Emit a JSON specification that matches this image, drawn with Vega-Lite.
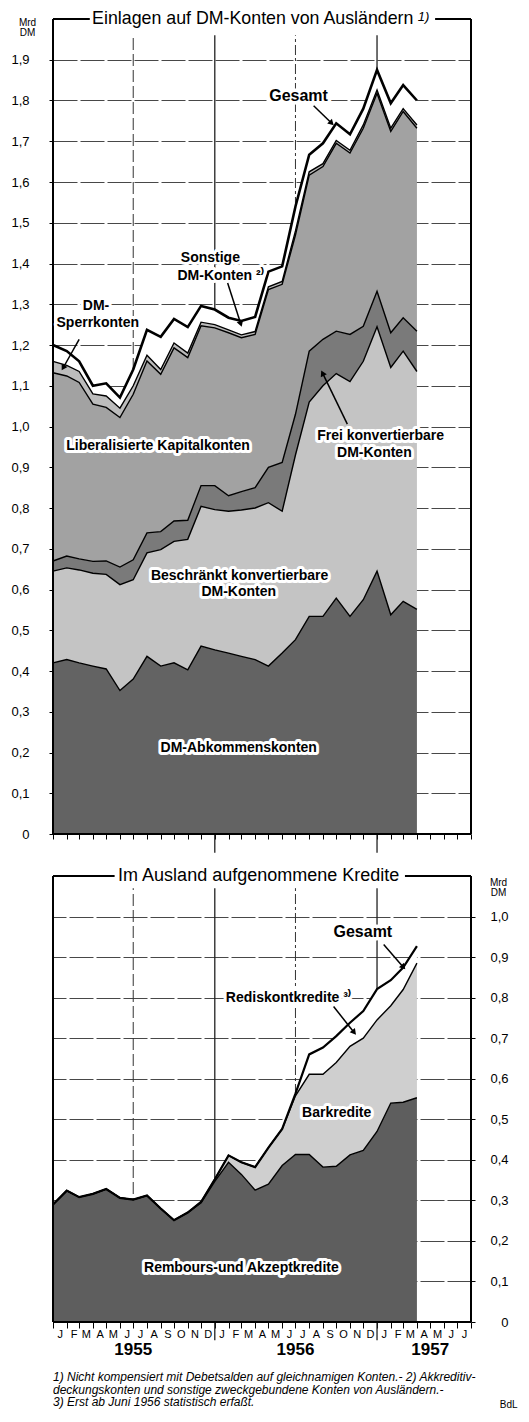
{
"$schema": "https://vega.github.io/schema/vega-lite/v6.json",
"background": "white",
"padding": {"left": 10, "top": 10, "right": 5, "bottom": 10},
"spacing": 13,
"resolve": {"scale": {"color": "independent"}},
"config": {"view": {"stroke": null}, "font": "Liberation Sans", "axis": {"labelColor": "black", "tickColor": "black", "domain": false}},
"datasets": {
"one": [{}],
"top": [
{"d":"1955-01-01","s1":0.420,"s2":0.225,"s3":0.025,"s4":0.462,"s5":0.028,"s6":0.040},
{"d":"1955-02-01","s1":0.428,"s2":0.225,"s3":0.029,"s4":0.442,"s5":0.026,"s6":0.035},
{"d":"1955-03-01","s1":0.420,"s2":0.228,"s3":0.027,"s4":0.433,"s5":0.027,"s6":0.025},
{"d":"1955-04-01","s1":0.412,"s2":0.228,"s3":0.029,"s4":0.386,"s5":0.025,"s6":0.020},
{"d":"1955-05-01","s1":0.405,"s2":0.232,"s3":0.033,"s4":0.377,"s5":0.028,"s6":0.031},
{"d":"1955-06-01","s1":0.352,"s2":0.260,"s3":0.043,"s4":0.367,"s5":0.023,"s6":0.026},
{"d":"1955-07-01","s1":0.380,"s2":0.244,"s3":0.049,"s4":0.406,"s5":0.021,"s6":0.040},
{"d":"1955-08-01","s1":0.436,"s2":0.254,"s3":0.049,"s4":0.422,"s5":0.014,"s6":0.062},
{"d":"1955-09-01","s1":0.412,"s2":0.286,"s3":0.044,"s4":0.386,"s5":0.012,"s6":0.080},
{"d":"1955-10-01","s1":0.420,"s2":0.298,"s3":0.050,"s4":0.425,"s5":0.012,"s6":0.059},
{"d":"1955-11-01","s1":0.403,"s2":0.320,"s3":0.047,"s4":0.399,"s5":0.011,"s6":0.064},
{"d":"1955-12-01","s1":0.461,"s2":0.343,"s3":0.051,"s4":0.392,"s5":0.009,"s6":0.040},
{"d":"1956-01-01","s1":0.452,"s2":0.344,"s3":0.059,"s4":0.387,"s5":0.008,"s6":0.037},
{"d":"1956-02-01","s1":0.444,"s2":0.348,"s3":0.038,"s4":0.400,"s5":0.007,"s6":0.030},
{"d":"1956-03-01","s1":0.436,"s2":0.359,"s3":0.045,"s4":0.378,"s5":0.007,"s6":0.034},
{"d":"1956-04-01","s1":0.428,"s2":0.372,"s3":0.050,"s4":0.376,"s5":0.007,"s6":0.036},
{"d":"1956-05-01","s1":0.412,"s2":0.401,"s3":0.087,"s4":0.436,"s5":0.007,"s6":0.037},
{"d":"1956-06-01","s1":0.444,"s2":0.348,"s3":0.120,"s4":0.437,"s5":0.007,"s6":0.037},
{"d":"1956-07-01","s1":0.477,"s2":0.453,"s3":0.100,"s4":0.440,"s5":0.010,"s6":0.060},
{"d":"1956-08-01","s1":0.534,"s2":0.526,"s3":0.125,"s4":0.432,"s5":0.008,"s6":0.042},
{"d":"1956-09-01","s1":0.534,"s2":0.566,"s3":0.114,"s4":0.424,"s5":0.007,"s6":0.050},
{"d":"1956-10-01","s1":0.579,"s2":0.551,"s3":0.104,"s4":0.461,"s5":0.007,"s6":0.042},
{"d":"1956-11-01","s1":0.534,"s2":0.576,"s3":0.116,"s4":0.445,"s5":0.007,"s6":0.039},
{"d":"1956-12-01","s1":0.575,"s2":0.585,"s3":0.086,"s4":0.486,"s5":0.008,"s6":0.040},
{"d":"1957-01-01","s1":0.645,"s2":0.600,"s3":0.087,"s4":0.486,"s5":0.008,"s6":0.049},
{"d":"1957-02-01","s1":0.538,"s2":0.607,"s3":0.085,"s4":0.494,"s5":0.008,"s6":0.061},
{"d":"1957-03-01","s1":0.571,"s2":0.614,"s3":0.082,"s4":0.506,"s5":0.007,"s6":0.058},
{"d":"1957-04-01","s1":0.551,"s2":0.584,"s3":0.099,"s4":0.498,"s5":0.008,"s6":0.060}
],
"bot": [
{"d":"1955-01-01","r1":0.290,"r2":0.000,"r3":0.000},
{"d":"1955-02-01","r1":0.324,"r2":0.000,"r3":0.000},
{"d":"1955-03-01","r1":0.308,"r2":0.000,"r3":0.000},
{"d":"1955-04-01","r1":0.316,"r2":0.000,"r3":0.000},
{"d":"1955-05-01","r1":0.328,"r2":0.000,"r3":0.000},
{"d":"1955-06-01","r1":0.306,"r2":0.000,"r3":0.000},
{"d":"1955-07-01","r1":0.302,"r2":0.000,"r3":0.000},
{"d":"1955-08-01","r1":0.312,"r2":0.000,"r3":0.000},
{"d":"1955-09-01","r1":0.280,"r2":0.000,"r3":0.000},
{"d":"1955-10-01","r1":0.251,"r2":0.000,"r3":0.000},
{"d":"1955-11-01","r1":0.270,"r2":0.000,"r3":0.000},
{"d":"1955-12-01","r1":0.294,"r2":0.002,"r3":0.000},
{"d":"1956-01-01","r1":0.347,"r2":0.005,"r3":0.000},
{"d":"1956-02-01","r1":0.394,"r2":0.017,"r3":0.000},
{"d":"1956-03-01","r1":0.364,"r2":0.030,"r3":0.000},
{"d":"1956-04-01","r1":0.325,"r2":0.057,"r3":0.000},
{"d":"1956-05-01","r1":0.340,"r2":0.090,"r3":0.000},
{"d":"1956-06-01","r1":0.386,"r2":0.090,"r3":0.000},
{"d":"1956-07-01","r1":0.413,"r2":0.145,"r3":0.005},
{"d":"1956-08-01","r1":0.413,"r2":0.198,"r3":0.049},
{"d":"1956-09-01","r1":0.382,"r2":0.229,"r3":0.066},
{"d":"1956-10-01","r1":0.384,"r2":0.256,"r3":0.065},
{"d":"1956-11-01","r1":0.412,"r2":0.268,"r3":0.058},
{"d":"1956-12-01","r1":0.423,"r2":0.277,"r3":0.067},
{"d":"1957-01-01","r1":0.470,"r2":0.275,"r3":0.076},
{"d":"1957-02-01","r1":0.540,"r2":0.240,"r3":0.063},
{"d":"1957-03-01","r1":0.542,"r2":0.278,"r3":0.054},
{"d":"1957-04-01","r1":0.553,"r2":0.332,"r3":0.042}
],
"topLab": [
{"d":"1955-12-22","v":1.413,"t":"Sonstige"},
{"d":"1956-01-14","v":1.369,"t":"DM-Konten ²⁾"},
{"d":"1955-04-08","v":1.295,"t":"DM-"},
{"d":"1955-04-12","v":1.254,"t":"Sperrkonten"},
{"d":"1955-08-26","v":0.952,"t":"Liberalisierte Kapitalkonten"},
{"d":"1957-01-09","v":0.977,"t":"Frei konvertierbare"},
{"d":"1956-12-26","v":0.935,"t":"DM-Konten"},
{"d":"1956-02-26","v":0.632,"t":"Beschränkt konvertierbare"},
{"d":"1956-02-24","v":0.593,"t":"DM-Konten"},
{"d":"1956-02-24","v":0.211,"t":"DM-Abkommenskonten"}
],
"botLab": [
{"d":"1956-06-15","v":0.800,"t":"Rediskontkredite ³⁾"},
{"d":"1956-10-02","v":0.516,"t":"Barkredite"},
{"d":"1956-03-01","v":0.133,"t":"Rembours-und Akzeptkredite"}
]
},
"vconcat": [
{
"width": 418, "height": 815,
"layer": [
{"data": {"name": "one"}, "mark": {"type": "rule", "stroke": "#333", "strokeWidth": 1, "strokeDash": [12, 4]}, "encoding": {"x": {"datum": {"year": 1955, "month": 7, "date": 1}}, "y": {"datum": 0}, "y2": {"datum": 1.96}}},
{"data": {"name": "one"}, "mark": {"type": "rule", "stroke": "#222", "strokeWidth": 1.3}, "encoding": {"x": {"datum": {"year": 1956, "month": 1, "date": 1}}, "y": {"datum": -0.046}, "y2": {"datum": 1.96}}},
{"data": {"name": "one"}, "mark": {"type": "rule", "stroke": "#333", "strokeWidth": 1, "strokeDash": [10, 3, 3, 3]}, "encoding": {"x": {"datum": {"year": 1956, "month": 7, "date": 1}}, "y": {"datum": 0}, "y2": {"datum": 1.96}}},
{"data": {"name": "one"}, "mark": {"type": "rule", "stroke": "#222", "strokeWidth": 1.3}, "encoding": {"x": {"datum": {"year": 1957, "month": 1, "date": 1}}, "y": {"datum": -0.046}, "y2": {"datum": 1.96}}},
{
"data": {"name": "top"},
"transform": [{"fold": ["s1", "s2", "s3", "s4", "s5", "s6"], "as": ["k", "v"]}],
"mark": {"type": "area"},
"encoding": {
"x": {"field": "d", "type": "temporal", "title": null,
"scale": {"domain": ["1955-01-01", "1957-08-01"], "nice": false},
"axis": {"tickCount": {"interval": "month", "step": 1}, "labels": false, "ticks": true, "tickSize": 5, "tickWidth": 1, "grid": false, "domain": false, "title": null}},
"y": {"field": "v", "type": "quantitative", "stack": "zero",
"scale": {"domain": [0, 2], "nice": false},
"axis": {"values": [0, 0.1, 0.2, 0.3, 0.4, 0.5, 0.6, 0.7, 0.8, 0.9, 1.0, 1.1, 1.2, 1.3, 1.4, 1.5, 1.6, 1.7, 1.8, 1.9],
"labelExpr": "datum.value == 0 ? '0' : replace(format(datum.value, '.1f'), '.', ',')",
"labelFontSize": 13,
"tickSize": 4, "labelPadding": 20, "grid": true, "gridColor": "#333", "gridWidth": 0.9, "gridDash": [24, 3],
"title": ["Mrd", "DM"], "titleAngle": 0, "titleAlign": "center", "titleBaseline": "top", "titleX": -26, "titleY": -2,
"titleFontSize": 10, "titleFontWeight": "normal", "titleLineHeight": 10}},
"color": {"field": "k", "type": "nominal", "legend": null,
"scale": {"domain": ["s1", "s2", "s3", "s4", "s5", "s6"], "range": ["#636363", "#c4c4c4", "#7a7a7a", "#a2a2a2", "#bcbcbc", "#ffffff"]}},
"order": {"field": "k", "sort": "ascending"}
}
},
{
"data": {"name": "top"},
"transform": [{"fold": ["s1", "s2", "s3", "s4", "s5"], "as": ["k", "v"]}],
"mark": {"type": "line", "stroke": "black", "strokeWidth": 1.4},
"encoding": {"x": {"field": "d", "type": "temporal"}, "y": {"field": "v", "type": "quantitative", "stack": "zero"}, "detail": {"field": "k"}, "order": {"field": "k", "sort": "ascending"}}
},
{
"data": {"name": "top"},
"transform": [{"fold": ["s1", "s2", "s3", "s4", "s5", "s6"], "as": ["k", "v"]}],
"mark": {"type": "line", "stroke": "black", "strokeWidth": 2.6},
"encoding": {"x": {"field": "d", "type": "temporal"}, "y": {"aggregate": "sum", "field": "v", "type": "quantitative"}}
},
{"data": {"name": "one"}, "mark": {"type": "rule", "stroke": "black", "strokeWidth": 2}, "encoding": {"x": {"datum": {"year": 1955, "month": 1, "date": 1}}, "y": {"datum": 0}, "y2": {"datum": 2}}},
{"data": {"name": "one"}, "mark": {"type": "rule", "stroke": "black", "strokeWidth": 2}, "encoding": {"x": {"datum": {"year": 1957, "month": 8, "date": 1}}, "y": {"datum": 0}, "y2": {"datum": 2}}},
{"data": {"name": "one"}, "mark": {"type": "rule", "stroke": "black", "strokeWidth": 2}, "encoding": {"x": {"datum": {"year": 1955, "month": 1, "date": 1}}, "x2": {"datum": {"year": 1957, "month": 8, "date": 1}}, "y": {"datum": 0}}},
{"data": {"name": "one"}, "mark": {"type": "rule", "stroke": "black", "strokeWidth": 2}, "encoding": {"x": {"datum": {"year": 1955, "month": 1, "date": 1}}, "x2": {"datum": {"year": 1955, "month": 3, "date": 25}}, "y": {"datum": 2}}},
{"data": {"name": "one"}, "mark": {"type": "rule", "stroke": "black", "strokeWidth": 2}, "encoding": {"x": {"datum": {"year": 1957, "month": 5, "date": 12}}, "x2": {"datum": {"year": 1957, "month": 8, "date": 1}}, "y": {"datum": 2}}},
{"data": {"name": "one"}, "mark": {"type": "text", "text": "Einlagen auf DM-Konten von Ausländern", "fontSize": 17.8, "align": "right", "baseline": "middle", "fill": "black"},
"encoding": {"x": {"datum": {"year": 1957, "month": 3, "date": 24}}, "y": {"datum": 2}}},
{"data": {"name": "one"}, "mark": {"type": "text", "text": "1)", "fontSize": 13, "fontStyle": "italic", "align": "left", "baseline": "middle", "dy": -2, "fill": "black"},
"encoding": {"x": {"datum": {"year": 1957, "month": 4, "date": 3}}, "y": {"datum": 2}}},
{"data": {"name": "topLab"},
"mark": {"type": "text", "fontSize": 14, "fontWeight": "bold", "align": "center", "baseline": "middle", "fill": "white", "stroke": "white", "strokeWidth": 6, "strokeJoin": "round"},
"encoding": {"x": {"field": "d", "type": "temporal"}, "y": {"field": "v", "type": "quantitative"}, "text": {"field": "t"}}},
{"data": {"name": "topLab"},
"mark": {"type": "text", "fontSize": 14, "fontWeight": "bold", "align": "center", "baseline": "middle", "fill": "black"},
"encoding": {"x": {"field": "d", "type": "temporal"}, "y": {"field": "v", "type": "quantitative"}, "text": {"field": "t"}}},
{"data": {"name": "one"}, "mark": {"type": "text", "text": "Gesamt", "fontSize": 16, "fontWeight": "bold", "align": "center", "baseline": "middle", "fill": "white", "stroke": "white", "strokeWidth": 7, "strokeJoin": "round"},
"encoding": {"x": {"datum": {"year": 1956, "month": 7, "date": 8}}, "y": {"datum": 1.81}}},
{"data": {"name": "one"}, "mark": {"type": "text", "text": "Gesamt", "fontSize": 16, "fontWeight": "bold", "align": "center", "baseline": "middle", "fill": "black"},
"encoding": {"x": {"datum": {"year": 1956, "month": 7, "date": 8}}, "y": {"datum": 1.81}}},
{"data": {"name": "one"}, "mark": {"type": "rule", "stroke": "black", "strokeWidth": 1.5}, "encoding": {"x": {"datum": {"year": 1956, "month": 8, "date": 11}}, "y": {"datum": 1.787}, "x2": {"datum": {"year": 1956, "month": 9, "date": 19}}, "y2": {"datum": 1.746}}},
{"data": {"name": "one"}, "mark": {"type": "point", "shape": "triangle", "filled": true, "color": "black", "opacity": 1, "size": 45, "angle": 135}, "encoding": {"x": {"datum": {"year": 1956, "month": 9, "date": 19}}, "y": {"datum": 1.746}}},
{"data": {"name": "one"}, "mark": {"type": "rule", "stroke": "black", "strokeWidth": 1.5}, "encoding": {"x": {"datum": {"year": 1956, "month": 1, "date": 30}}, "y": {"datum": 1.352}, "x2": {"datum": {"year": 1956, "month": 2, "date": 28}}, "y2": {"datum": 1.254}}},
{"data": {"name": "one"}, "mark": {"type": "point", "shape": "triangle", "filled": true, "color": "black", "opacity": 1, "size": 45, "angle": 162}, "encoding": {"x": {"datum": {"year": 1956, "month": 2, "date": 28}}, "y": {"datum": 1.254}}},
{"data": {"name": "one"}, "mark": {"type": "rule", "stroke": "black", "strokeWidth": 1.5}, "encoding": {"x": {"datum": {"year": 1955, "month": 3, "date": 1}}, "y": {"datum": 1.214}, "x2": {"datum": {"year": 1955, "month": 1, "date": 25}}, "y2": {"datum": 1.146}}},
{"data": {"name": "one"}, "mark": {"type": "point", "shape": "triangle", "filled": true, "color": "black", "opacity": 1, "size": 45, "angle": 210}, "encoding": {"x": {"datum": {"year": 1955, "month": 1, "date": 25}}, "y": {"datum": 1.146}}},
{"data": {"name": "one"}, "mark": {"type": "rule", "stroke": "black", "strokeWidth": 1.5}, "encoding": {"x": {"datum": {"year": 1956, "month": 10, "date": 26}}, "y": {"datum": 1.006}, "x2": {"datum": {"year": 1956, "month": 9, "date": 1}}, "y2": {"datum": 1.129}}},
{"data": {"name": "one"}, "mark": {"type": "point", "shape": "triangle", "filled": true, "color": "black", "opacity": 1, "size": 45, "angle": 333}, "encoding": {"x": {"datum": {"year": 1956, "month": 9, "date": 1}}, "y": {"datum": 1.129}}}
]
},
{
"width": 418, "height": 446,
"layer": [
{"data": {"name": "one"}, "mark": {"type": "rule", "stroke": "#333", "strokeWidth": 1, "strokeDash": [12, 4]}, "encoding": {"x": {"datum": {"year": 1955, "month": 7, "date": 1}}, "y": {"datum": 0}, "y2": {"datum": 1.07}}},
{"data": {"name": "one"}, "mark": {"type": "rule", "stroke": "#222", "strokeWidth": 1.3}, "encoding": {"x": {"datum": {"year": 1956, "month": 1, "date": 1}}, "y": {"datum": -0.045}, "y2": {"datum": 1.07}}},
{"data": {"name": "one"}, "mark": {"type": "rule", "stroke": "#333", "strokeWidth": 1, "strokeDash": [10, 3, 3, 3]}, "encoding": {"x": {"datum": {"year": 1956, "month": 7, "date": 1}}, "y": {"datum": 0}, "y2": {"datum": 1.07}}},
{"data": {"name": "one"}, "mark": {"type": "rule", "stroke": "#222", "strokeWidth": 1.3}, "encoding": {"x": {"datum": {"year": 1957, "month": 1, "date": 1}}, "y": {"datum": -0.045}, "y2": {"datum": 1.07}}},
{
"data": {"name": "bot"},
"transform": [{"fold": ["r1", "r2", "r3"], "as": ["k", "v"]}],
"mark": {"type": "area"},
"encoding": {
"x": {"field": "d", "type": "temporal", "title": null,
"scale": {"domain": ["1955-01-01", "1957-08-01"], "nice": false},
"axis": {"tickCount": {"interval": "month", "step": 1}, "tickSize": 6, "tickWidth": 1, "grid": false, "domain": false, "title": null,
"labelExpr": "datum.value >= time(datetime(1957, 7, 1)) ? '' : slice(timeFormat(datum.value, '%b'), 0, 1)",
"labelOffset": 6.75, "labelAlign": "center", "labelBaseline": "top", "labelPadding": 0, "labelFontSize": 11, "labelOverlap": false, "labelFlush": false, "labelBound": false}},
"y": {"field": "v", "type": "quantitative", "stack": "zero",
"scale": {"domain": [0, 1.1], "nice": false},
"axis": {"orient": "right", "values": [0, 0.1, 0.2, 0.3, 0.4, 0.5, 0.6, 0.7, 0.8, 0.9, 1.0],
"labelExpr": "datum.value == 0 ? '0' : replace(format(datum.value, '.1f'), '.', ',')",
"labelFontSize": 13, "labelAlign": "right",
"tickSize": 4, "labelPadding": 33, "grid": true, "gridColor": "#333", "gridWidth": 0.9, "gridDash": [24, 3],
"title": ["Mrd", "DM"], "titleAngle": 0, "titleAlign": "center", "titleBaseline": "top", "titleX": 27, "titleY": 1,
"titleFontSize": 10, "titleFontWeight": "normal", "titleLineHeight": 10}},
"color": {"field": "k", "type": "nominal", "legend": null,
"scale": {"domain": ["r1", "r2", "r3"], "range": ["#5e5e5e", "#cfcfcf", "#ffffff"]}},
"order": {"field": "k", "sort": "ascending"}
}
},
{
"data": {"name": "bot"},
"transform": [{"fold": ["r1", "r2"], "as": ["k", "v"]}],
"mark": {"type": "line", "stroke": "black", "strokeWidth": 1.4},
"encoding": {"x": {"field": "d", "type": "temporal"}, "y": {"field": "v", "type": "quantitative", "stack": "zero"}, "detail": {"field": "k"}, "order": {"field": "k", "sort": "ascending"}}
},
{
"data": {"name": "bot"},
"transform": [{"fold": ["r1", "r2", "r3"], "as": ["k", "v"]}],
"mark": {"type": "line", "stroke": "black", "strokeWidth": 2.2},
"encoding": {"x": {"field": "d", "type": "temporal"}, "y": {"aggregate": "sum", "field": "v", "type": "quantitative"}}
},
{"data": {"name": "one"}, "mark": {"type": "rule", "stroke": "black", "strokeWidth": 2}, "encoding": {"x": {"datum": {"year": 1955, "month": 1, "date": 1}}, "y": {"datum": 0}, "y2": {"datum": 1.1}}},
{"data": {"name": "one"}, "mark": {"type": "rule", "stroke": "black", "strokeWidth": 2}, "encoding": {"x": {"datum": {"year": 1957, "month": 8, "date": 1}}, "y": {"datum": 0}, "y2": {"datum": 1.1}}},
{"data": {"name": "one"}, "mark": {"type": "rule", "stroke": "black", "strokeWidth": 2}, "encoding": {"x": {"datum": {"year": 1955, "month": 1, "date": 1}}, "x2": {"datum": {"year": 1957, "month": 8, "date": 1}}, "y": {"datum": 0}}},
{"data": {"name": "one"}, "mark": {"type": "rule", "stroke": "black", "strokeWidth": 2}, "encoding": {"x": {"datum": {"year": 1955, "month": 1, "date": 1}}, "x2": {"datum": {"year": 1955, "month": 5, "date": 20}}, "y": {"datum": 1.1}}},
{"data": {"name": "one"}, "mark": {"type": "rule", "stroke": "black", "strokeWidth": 2}, "encoding": {"x": {"datum": {"year": 1957, "month": 3, "date": 5}}, "x2": {"datum": {"year": 1957, "month": 8, "date": 1}}, "y": {"datum": 1.1}}},
{"data": {"name": "one"}, "mark": {"type": "text", "text": "Im Ausland aufgenommene Kredite", "fontSize": 18, "align": "center", "baseline": "middle", "fill": "black"},
"encoding": {"x": {"datum": {"year": 1956, "month": 4, "date": 9}}, "y": {"datum": 1.1}}},
{"data": {"name": "botLab"},
"mark": {"type": "text", "fontSize": 14, "fontWeight": "bold", "align": "center", "baseline": "middle", "fill": "white", "stroke": "white", "strokeWidth": 6, "strokeJoin": "round"},
"encoding": {"x": {"field": "d", "type": "temporal"}, "y": {"field": "v", "type": "quantitative"}, "text": {"field": "t"}}},
{"data": {"name": "botLab"},
"mark": {"type": "text", "fontSize": 14, "fontWeight": "bold", "align": "center", "baseline": "middle", "fill": "black"},
"encoding": {"x": {"field": "d", "type": "temporal"}, "y": {"field": "v", "type": "quantitative"}, "text": {"field": "t"}}},
{"data": {"name": "one"}, "mark": {"type": "text", "text": "Gesamt", "fontSize": 16, "fontWeight": "bold", "align": "center", "baseline": "middle", "fill": "white", "stroke": "white", "strokeWidth": 7, "strokeJoin": "round"},
"encoding": {"x": {"datum": {"year": 1956, "month": 11, "date": 30}}, "y": {"datum": 0.963}}},
{"data": {"name": "one"}, "mark": {"type": "text", "text": "Gesamt", "fontSize": 16, "fontWeight": "bold", "align": "center", "baseline": "middle", "fill": "black"},
"encoding": {"x": {"datum": {"year": 1956, "month": 11, "date": 30}}, "y": {"datum": 0.963}}},
{"data": {"name": "one"}, "mark": {"type": "rule", "stroke": "black", "strokeWidth": 1.5}, "encoding": {"x": {"datum": {"year": 1957, "month": 1, "date": 16}}, "y": {"datum": 0.931}, "x2": {"datum": {"year": 1957, "month": 2, "date": 28}}, "y2": {"datum": 0.877}}},
{"data": {"name": "one"}, "mark": {"type": "point", "shape": "triangle", "filled": true, "color": "black", "opacity": 1, "size": 45, "angle": 139}, "encoding": {"x": {"datum": {"year": 1957, "month": 2, "date": 28}}, "y": {"datum": 0.877}}},
{"data": {"name": "one"}, "mark": {"type": "rule", "stroke": "black", "strokeWidth": 1.5}, "encoding": {"x": {"datum": {"year": 1956, "month": 9, "date": 25}}, "y": {"datum": 0.778}, "x2": {"datum": {"year": 1956, "month": 11, "date": 9}}, "y2": {"datum": 0.716}}},
{"data": {"name": "one"}, "mark": {"type": "point", "shape": "triangle", "filled": true, "color": "black", "opacity": 1, "size": 45, "angle": 141}, "encoding": {"x": {"datum": {"year": 1956, "month": 11, "date": 9}}, "y": {"datum": 0.716}}},
{"data": {"name": "one"}, "mark": {"type": "text", "text": "1955", "fontSize": 17, "fontWeight": "bold", "align": "center", "baseline": "middle"}, "encoding": {"x": {"datum": {"year": 1955, "month": 7, "date": 1}}, "y": {"datum": -0.069}}},
{"data": {"name": "one"}, "mark": {"type": "text", "text": "1956", "fontSize": 17, "fontWeight": "bold", "align": "center", "baseline": "middle"}, "encoding": {"x": {"datum": {"year": 1956, "month": 7, "date": 1}}, "y": {"datum": -0.069}}},
{"data": {"name": "one"}, "mark": {"type": "text", "text": "1957", "fontSize": 17, "fontWeight": "bold", "align": "center", "baseline": "middle"}, "encoding": {"x": {"datum": {"year": 1957, "month": 5, "date": 1}}, "y": {"datum": -0.069}}},
{"data": {"name": "one"}, "mark": {"type": "text", "text": "1) Nicht kompensiert mit Debetsalden auf gleichnamigen Konten.- 2) Akkreditiv-", "fontSize": 12, "fontStyle": "italic", "align": "left", "baseline": "middle"}, "encoding": {"x": {"datum": {"year": 1955, "month": 1, "date": 1}}, "y": {"datum": -0.136}}},
{"data": {"name": "one"}, "mark": {"type": "text", "text": "deckungskonten und sonstige zweckgebundene Konten von Ausländern.-", "fontSize": 12, "fontStyle": "italic", "align": "left", "baseline": "middle"}, "encoding": {"x": {"datum": {"year": 1955, "month": 1, "date": 1}}, "y": {"datum": -0.168}}},
{"data": {"name": "one"}, "mark": {"type": "text", "text": "3) Erst ab Juni 1956 statistisch erfaßt.", "fontSize": 12, "fontStyle": "italic", "align": "left", "baseline": "middle"}, "encoding": {"x": {"datum": {"year": 1955, "month": 1, "date": 1}}, "y": {"datum": -0.198}}},
{"data": {"name": "one"}, "mark": {"type": "text", "text": "BdL", "fontSize": 10, "align": "center", "baseline": "middle"}, "encoding": {"x": {"datum": {"year": 1957, "month": 10, "date": 25}}, "y": {"datum": -0.205}}}
]
}
]
}
